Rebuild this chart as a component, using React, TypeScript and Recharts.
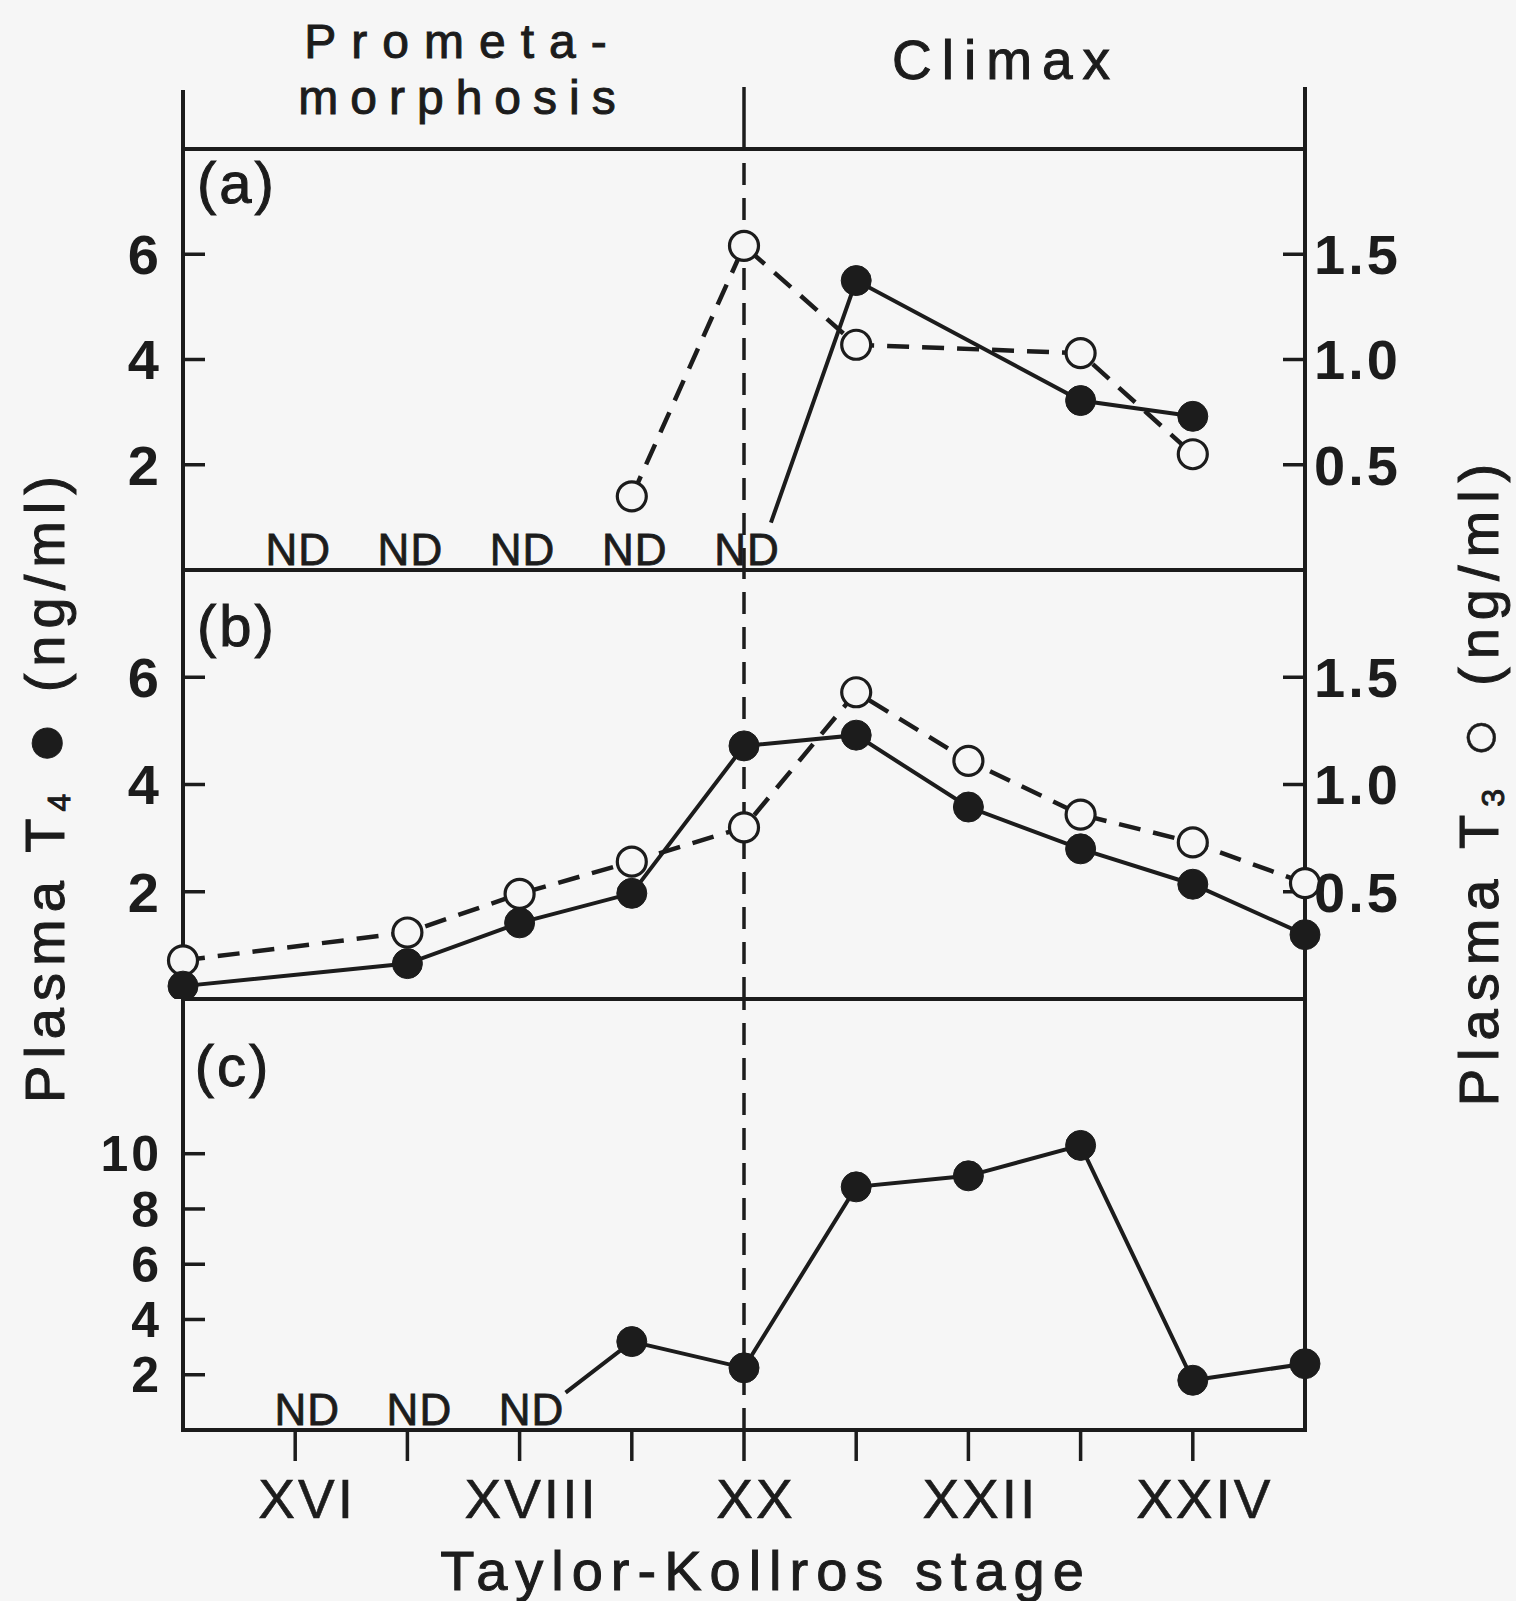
import React from 'react';
import { LineChart, Line, XAxis, YAxis, ReferenceArea, ReferenceLine, ReferenceDot } from 'recharts';

// ---------- data ----------
const STAGE_MIN = 15;
const STAGE_MAX = 25;
const CLIMAX_STAGE = 20;
const stageTicks = [16, 17, 18, 19, 20, 21, 22, 23, 24];
const stageLabels: Record<number, string> = { 16: 'XVI', 18: 'XVIII', 20: 'XX', 22: 'XXII', 24: 'XXIV' };

const t4Ticks = [2, 4, 6];
const t3Ticks = [0.5, 1.0, 1.5];
const cTicks = [2, 4, 6, 8, 10];

// panel (a)  (first T4 point is the start of the line leaving the "ND" label, no marker)
const aT4Stages = [20.24, 21, 23, 24];
const aT4Values = [0.9, 5.5, 3.22, 2.92];
const aT4Marked = [false, true, true, true];
const aT3Stages = [19, 20, 21, 23, 24];
const aT3Values = [0.35, 1.54, 1.07, 1.03, 0.55];
const aNdStages = [16, 17, 18, 19, 20];

// panel (b)
const bStages = [15, 17, 18, 19, 20, 21, 22, 23, 24, 25];
const bT4Values = [0.24, 0.66, 1.42, 1.97, 4.72, 4.92, 3.58, 2.8, 2.14, 1.2];
const bT3Values = [0.18, 0.31, 0.49, 0.64, 0.8, 1.43, 1.11, 0.86, 0.73, 0.54];

// panel (c)
const cStages = [18.41, 19, 20, 21, 22, 23, 24, 25];
const cValues = [1.35, 3.2, 2.25, 8.8, 9.2, 10.3, 1.8, 2.4];
const cMarked = [false, true, true, true, true, true, true, true];
const cNdStages = [16, 17, 18];

// ---------- layout / style ----------
const W = 1516;
const H = 1601;
const PLOT_L = 183;
const PLOT_R = 1305;
const A_TOP = 149;
const A_BOT = 570;
const B_BOT = 999;
const C_BOT = 1430;
const C_MAX = 15.6;
const PAD = 30;
const LEFT_W = 100;
const RIGHT_W = 150;
const INK = '#1c1c1c';
const BG = '#f6f6f6';
const FONT = '"Liberation Sans", Arial, Helvetica, sans-serif';

const series = (xs: number[], ys: number[], marks?: boolean[]) =>
  xs.map((s, i) => ({ s, v: ys[i], m: marks ? marks[i] : true }));

const aT4 = series(aT4Stages, aT4Values, aT4Marked);
const aT3 = series(aT3Stages, aT3Values);
const bT4 = series(bStages, bT4Values);
const bT3 = series(bStages, bT3Values);
const cT4 = series(cStages, cValues, cMarked);

const xOf = (s: number) => PLOT_L + ((s - STAGE_MIN) / (STAGE_MAX - STAGE_MIN)) * (PLOT_R - PLOT_L);

const FilledDot = (p: any) =>
  p.payload && p.payload.m === false ? (
    <g key={p.key} />
  ) : (
    <circle key={p.key} cx={p.cx} cy={p.cy} r={15} fill={INK} stroke={INK} strokeWidth={1} />
  );
const OpenDot = (p: any) => (
  <circle key={p.key} cx={p.cx} cy={p.cy} r={14.5} fill={BG} stroke={INK} strokeWidth={3.2} />
);

const yTickStyle = (size: number) => ({ fill: INK, fontSize: size, fontWeight: 700, fontFamily: FONT, letterSpacing: 3 });
const tickLineStyle = { stroke: INK, strokeWidth: 3.5 };
const ndLabel = (dx: number) => ({
  value: 'ND',
  position: 'top' as const,
  offset: 5,
  dx,
  fill: INK,
  stroke: INK,
  strokeWidth: 0.8,
  fontSize: 44,
  fontFamily: FONT,
  letterSpacing: 1,
});

const leftAxis = (domain: [number, number], ticks: number[], size: number) => (
  <YAxis
    yAxisId="L"
    domain={domain}
    ticks={ticks}
    interval={0}
    width={LEFT_W}
    axisLine={false}
    tickSize={-22}
    tickMargin={43}
    tickLine={tickLineStyle}
    tick={yTickStyle(size)}
    allowDataOverflow
  />
);
const rightAxis = () => (
  <YAxis
    yAxisId="R"
    orientation="right"
    domain={[0, 2]}
    ticks={t3Ticks}
    interval={0}
    width={RIGHT_W}
    axisLine={false}
    tickSize={-22}
    tickMargin={31}
    tickLine={tickLineStyle}
    tick={yTickStyle(56)}
    tickFormatter={(v: number) => v.toFixed(1)}
    allowDataOverflow
  />
);
const topTicks = () => (
  <XAxis
    xAxisId="top"
    orientation="top"
    mirror
    type="number"
    domain={[STAGE_MIN, STAGE_MAX]}
    ticks={stageTicks}
    interval={0}
    height={1}
    axisLine={false}
    tickLine={tickLineStyle}
    tickSize={26}
    tickFormatter={() => ''}
  />
);
const frame = (yMax: number) => (
  <ReferenceArea
    yAxisId="L"
    x1={STAGE_MIN}
    x2={STAGE_MAX}
    y1={0}
    y2={yMax}
    fill="none"
    stroke={INK}
    strokeWidth={4}
    fillOpacity={0}
    ifOverflow="visible"
  />
);
const climaxLine = () => (
  <ReferenceLine yAxisId="L" x={CLIMAX_STAGE} stroke={INK} strokeWidth={3.5} strokeDasharray="22 13" />
);

const heavy = { stroke: INK, strokeWidth: 1 };

export default function App() {
  return (
    <div style={{ position: 'relative', width: W, height: H, background: BG, overflow: 'hidden' }}>
      <style>{`body{margin:0;background:${BG};}`}</style>

      {/* panel (a) */}
      <div style={{ position: 'absolute', left: 0, top: A_TOP - PAD }}>
        <LineChart
          width={W}
          height={A_BOT - A_TOP + 2 * PAD}
          margin={{ top: PAD, bottom: PAD, left: PLOT_L - LEFT_W, right: W - PLOT_R - RIGHT_W }}
        >
          <XAxis type="number" dataKey="s" domain={[STAGE_MIN, STAGE_MAX]} hide />
          {leftAxis([0, 8], t4Ticks, 56)}
          {rightAxis()}
          {frame(8)}
          {climaxLine()}
          {aNdStages.map((s) => (
            <ReferenceDot key={s} yAxisId="L" x={s} y={0} r={0} fill="none" stroke="none" label={ndLabel(3)} />
          ))}
          <Line
            yAxisId="R"
            data={aT3}
            dataKey="v"
            stroke={INK}
            strokeWidth={4.5}
            strokeDasharray="22 13"
            dot={OpenDot}
            isAnimationActive={false}
          />
          <Line yAxisId="L" data={aT4} dataKey="v" stroke={INK} strokeWidth={4} dot={FilledDot} isAnimationActive={false} />
        </LineChart>
      </div>

      {/* panel (b) */}
      <div style={{ position: 'absolute', left: 0, top: A_BOT - PAD }}>
        <LineChart
          width={W}
          height={B_BOT - A_BOT + 2 * PAD}
          margin={{ top: PAD, bottom: PAD, left: PLOT_L - LEFT_W, right: W - PLOT_R - RIGHT_W }}
        >
          <XAxis type="number" dataKey="s" domain={[STAGE_MIN, STAGE_MAX]} hide />
          {topTicks()}
          {leftAxis([0, 8], t4Ticks, 56)}
          {rightAxis()}
          {frame(8)}
          {climaxLine()}
          <Line
            yAxisId="R"
            data={bT3}
            dataKey="v"
            stroke={INK}
            strokeWidth={4.5}
            strokeDasharray="22 13"
            dot={OpenDot}
            isAnimationActive={false}
          />
          <Line yAxisId="L" data={bT4} dataKey="v" stroke={INK} strokeWidth={4} dot={FilledDot} isAnimationActive={false} />
        </LineChart>
      </div>

      {/* panel (c) */}
      <div style={{ position: 'absolute', left: 0, top: B_BOT - PAD }}>
        <LineChart
          width={W}
          height={C_BOT - B_BOT + PAD + 110 + 10}
          margin={{ top: PAD, bottom: 10, left: PLOT_L - LEFT_W, right: W - PLOT_R }}
        >
          <XAxis
            type="number"
            dataKey="s"
            domain={[STAGE_MIN, STAGE_MAX]}
            ticks={stageTicks}
            interval={0}
            height={110}
            axisLine={false}
            tickLine={tickLineStyle}
            tickSize={31}
            tickMargin={18}
            tickFormatter={(v: number) => stageLabels[v] ?? ''}
            tick={{ fill: INK, fontSize: 55, fontFamily: FONT, letterSpacing: 3, dx: 12, stroke: INK, strokeWidth: 0.6 }}
          />
          {topTicks()}
          {leftAxis([0, C_MAX], cTicks, 50)}
          {frame(C_MAX)}
          {climaxLine()}
          {cNdStages.map((s) => (
            <ReferenceDot key={s} yAxisId="L" x={s} y={0} r={0} fill="none" stroke="none" label={ndLabel(12)} />
          ))}
          <Line yAxisId="L" data={cT4} dataKey="v" stroke={INK} strokeWidth={4} dot={FilledDot} isAnimationActive={false} />
        </LineChart>
      </div>

      {/* header lines and free text */}
      <svg
        width={W}
        height={H}
        style={{ position: 'absolute', left: 0, top: 0, pointerEvents: 'none' }}
        fontFamily={FONT}
        fill={INK}
      >
        <line x1={xOf(STAGE_MIN)} x2={xOf(STAGE_MIN)} y1={90} y2={A_TOP} stroke={INK} strokeWidth={4} />
        <line x1={xOf(STAGE_MAX)} x2={xOf(STAGE_MAX)} y1={87} y2={A_TOP} stroke={INK} strokeWidth={4} />
        <line x1={xOf(CLIMAX_STAGE)} x2={xOf(CLIMAX_STAGE)} y1={87} y2={A_TOP} stroke={INK} strokeWidth={3.5} />

        <text x={463} y={58} textAnchor="middle" fontSize={48} letterSpacing={15} {...heavy}>Prometa-</text>
        <text x={463} y={114} textAnchor="middle" fontSize={48} letterSpacing={12} {...heavy}>morphosis</text>
        <text x={1006} y={79} textAnchor="middle" fontSize={55} letterSpacing={10} {...heavy}>Climax</text>

        <text x={237} y={203} textAnchor="middle" fontSize={58} letterSpacing={3} {...heavy}>(a)</text>
        <text x={237} y={646} textAnchor="middle" fontSize={58} letterSpacing={3} {...heavy}>(b)</text>
        <text x={233} y={1086} textAnchor="middle" fontSize={58} letterSpacing={3} {...heavy}>(c)</text>

        <text x={766} y={1590} textAnchor="middle" fontSize={56} letterSpacing={8} {...heavy}>Taylor-Kollros stage</text>

        <g transform="translate(44,786) rotate(-90)">
          <text x={0} y={20} textAnchor="middle" fontSize={56} letterSpacing={7} {...heavy}>
            Plasma T<tspan fontSize={32} dy={6}>4</tspan>
            <tspan dy={-6} fontSize={56}> </tspan>
            <tspan fontSize={70} dy={3}>●</tspan>
            <tspan dy={-3} fontSize={56}> (ng/ml)</tspan>
          </text>
        </g>
        <g transform="translate(1478,781) rotate(-90)">
          <text x={0} y={20} textAnchor="middle" fontSize={56} letterSpacing={8} {...heavy}>
            Plasma T<tspan fontSize={32} dy={6}>3</tspan>
            <tspan dy={-6} fontSize={56}> </tspan>
            <tspan fontSize={66} dy={3} strokeWidth={0.5}>○</tspan>
            <tspan dy={-3} fontSize={56}> (ng/ml)</tspan>
          </text>
        </g>
      </svg>
    </div>
  );
}
